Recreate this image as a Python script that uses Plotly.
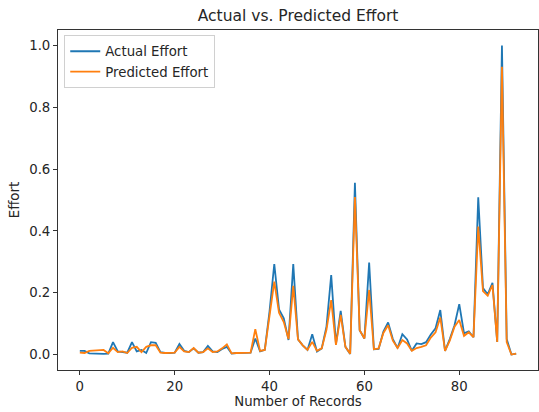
import plotly.graph_objects as go

records = list(range(93))

actual_effort = [
    0.012, 0.012, 0.004, 0.003, 0.003, 0.002, 0.003, 0.040, 0.010, 0.008,
    0.006, 0.040, 0.010, 0.015, 0.005, 0.040, 0.038, 0.008, 0.005, 0.005,
    0.006, 0.034, 0.012, 0.008, 0.020, 0.006, 0.008, 0.028, 0.010, 0.008,
    0.018, 0.025, 0.003, 0.005, 0.005, 0.005, 0.006, 0.052, 0.010, 0.015,
    0.140, 0.293, 0.146, 0.117, 0.047, 0.293, 0.049, 0.030, 0.015, 0.066,
    0.010, 0.020, 0.090, 0.257, 0.034, 0.141, 0.025, 0.002, 0.556, 0.079,
    0.052, 0.298, 0.017, 0.018, 0.074, 0.104, 0.050, 0.021, 0.066, 0.049,
    0.012, 0.036, 0.034, 0.040, 0.065, 0.085, 0.144, 0.012, 0.050, 0.095,
    0.163, 0.069, 0.075, 0.056, 0.509, 0.215, 0.195, 0.232, 0.041, 1.000,
    0.050, 0.000, 0.003,
]

predicted_effort = [
    0.006, 0.005, 0.012, 0.013, 0.013, 0.015, 0.004, 0.022, 0.008, 0.010,
    0.005, 0.022, 0.025, 0.008, 0.025, 0.030, 0.030, 0.006, 0.005, 0.005,
    0.006, 0.025, 0.010, 0.008, 0.021, 0.006, 0.008, 0.020, 0.008, 0.010,
    0.020, 0.033, 0.004, 0.005, 0.005, 0.005, 0.006, 0.082, 0.012, 0.015,
    0.120, 0.236, 0.135, 0.105, 0.050, 0.222, 0.049, 0.030, 0.015, 0.041,
    0.012, 0.020, 0.080, 0.176, 0.031, 0.128, 0.025, 0.003, 0.510, 0.079,
    0.052, 0.209, 0.017, 0.020, 0.070, 0.095, 0.045, 0.021, 0.047, 0.036,
    0.012, 0.021, 0.025, 0.030, 0.055, 0.072, 0.120, 0.012, 0.045, 0.090,
    0.112, 0.060, 0.072, 0.056, 0.414, 0.205, 0.190, 0.225, 0.041, 0.931,
    0.040, 0.000, 0.003,
]

x_ticks = [0, 20, 40, 60, 80]
y_ticks = [0.0, 0.2, 0.4, 0.6, 0.8, 1.0]

FONT = "DejaVu Sans"
TXT = "#262626"
FS = 13.3

fig = go.Figure()
fig.add_trace(go.Scatter(x=records, y=actual_effort, mode="lines",
                         name="Actual Effort",
                         line=dict(color="#1f77b4", width=1.8)))
fig.add_trace(go.Scatter(x=records, y=predicted_effort, mode="lines",
                         name="Predicted Effort",
                         line=dict(color="#ff7f0e", width=1.8)))

xmin, xmax = min(records), max(records)
ymin, ymax = min(actual_effort + predicted_effort), max(actual_effort + predicted_effort)
xpad = (xmax - xmin) * 0.05
ypad = (ymax - ymin) * 0.05

fig.update_layout(
    width=539, height=412,
    margin=dict(l=58, r=1, t=30, b=42),
    paper_bgcolor="white", plot_bgcolor="white",
    font=dict(family=FONT, size=FS, color=TXT),
    title=dict(text="Actual vs. Predicted Effort", x=0.553, xanchor="center",
               y=1 - 16 / 412, yanchor="middle",
               font=dict(family=FONT, size=15.5, color=TXT)),
    showlegend=True,
    legend=dict(x=0.013, y=0.985, xanchor="left", yanchor="top",
                bgcolor="rgba(255,255,255,0.8)", bordercolor="#d0d0d0",
                borderwidth=1, font=dict(family=FONT, size=FS, color=TXT),
                tracegroupgap=0, itemwidth=30),
    xaxis=dict(range=[xmin - xpad, xmax + xpad], tickvals=x_ticks,
               showgrid=False, zeroline=False, showline=True, mirror=True,
               linecolor="#333333", linewidth=1, ticks="outside", ticklen=4,
               tickcolor="#333333", tickfont=dict(size=FS),
               title=dict(text="Number of Records", standoff=2,
                          font=dict(family=FONT, size=FS, color=TXT))),
    yaxis=dict(range=[ymin - ypad, ymax + ypad], tickvals=y_ticks,
               tickformat=".1f",
               showgrid=False, zeroline=False, showline=True, mirror=True,
               linecolor="#333333", linewidth=1, ticks="outside", ticklen=4,
               tickcolor="#333333", tickfont=dict(size=FS),
               title=dict(text="Effort", standoff=6,
                          font=dict(family=FONT, size=FS, color=TXT))),
)

fig.write_html("out.html")
